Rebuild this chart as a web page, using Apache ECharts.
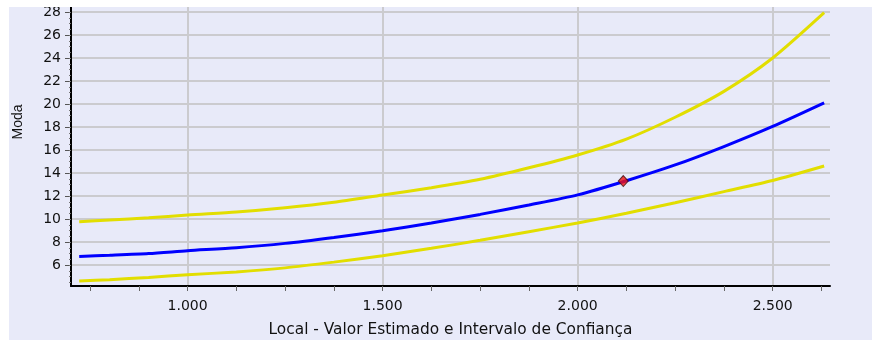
<!DOCTYPE html>
<html>
<head>
<meta charset="utf-8">
<script src="https://cdn.jsdelivr.net/npm/echarts@6/dist/echarts.min.js"></script>
<style>
  html, body { margin: 0; padding: 0; background: #ffffff; }
  #chart { width: 872px; height: 340px; }
</style>
</head>
<body>
<div id="chart"></div>
<script>
// Local (x) and Moda (y): estimate with its confidence band
const locais = [722, 800, 900, 1000, 1125, 1250, 1375, 1500, 1625, 1750, 1875, 2000, 2125, 2250, 2375, 2500, 2632];
const modaEstimada = [6.75, 6.85, 7.0, 7.24, 7.5, 7.88, 8.4, 8.98, 9.65, 10.4, 11.22, 12.1, 13.33, 14.7, 16.3, 18.05, 20.1];
const limiteSuperior = [9.77, 9.92, 10.1, 10.35, 10.6, 10.97, 11.45, 12.09, 12.72, 13.45, 14.45, 15.57, 16.95, 18.85, 21.1, 24.0, 27.94];
const limiteInferior = [4.61, 4.72, 4.92, 5.15, 5.4, 5.75, 6.25, 6.81, 7.45, 8.15, 8.9, 9.65, 10.5, 11.42, 12.38, 13.35, 14.61];

// highlighted point on the estimate
const pontoLocal = [2117];
const pontoModa = [13.3];

// axis ticks and labels
const xRotulos = [1000, 1500, 2000, 2500];
const xMarcas = [750, 875, 1000, 1125, 1250, 1375, 1500, 1625, 1750, 1875, 2000, 2125, 2250, 2375, 2500, 2625];
const yRotulos = [6, 8, 10, 12, 14, 16, 18, 20, 22, 24, 26, 28];
const yMarcas = [];
for (let v = 4.5; v <= 28; v += 0.5) yMarcas.push(v);

const X_MIN = 701, X_MAX = 2647;
const Y_MIN = 4.174, Y_MAX = 28.435;

const pares = (xs, ys) => xs.map((x, i) => [x, ys[i]]);
const milhar = v => Math.floor(v / 1000) + '.' + String(Math.round(v % 1000)).padStart(3, '0');

const chart = echarts.init(document.getElementById('chart'), null, { renderer: 'canvas' });

const linha = (name, valores, cor, z) => ({
  name, type: 'line', data: pares(locais, valores),
  xAxisIndex: 0, yAxisIndex: 0, showSymbol: false, smooth: 0.25,
  lineStyle: { color: cor, width: 3 }, z
});

chart.setOption({
  backgroundColor: '#e8eaf9',
  animation: false,
  textStyle: { fontFamily: 'DejaVu Sans', color: '#111' },
  grid: { left: 71, right: 42, top: 7, bottom: 54, containLabel: false, outerBoundsMode: 'none' },
  xAxis: [
    {
      type: 'value', position: 'bottom', min: X_MIN, max: X_MAX,
      axisLine: { show: true, onZero: false, lineStyle: { color: '#000', width: 2 } },
      axisTick: { show: true, customValues: xRotulos, length: 5, lineStyle: { color: '#666', width: 1 } },
      axisLabel: { customValues: xRotulos, formatter: milhar, margin: 13, fontSize: 14, color: '#111', fontFamily: 'DejaVu Sans' },
      splitLine: { show: true, lineStyle: { color: '#cbcbcf', width: 2 } },
      name: 'Local - Valor Estimado e Intervalo de Confiança',
      nameLocation: 'middle', nameGap: 36,
      nameTextStyle: { fontSize: 15.4, color: '#111', fontFamily: 'DejaVu Sans' }
    },
    {
      type: 'value', position: 'bottom', min: X_MIN, max: X_MAX,
      axisLine: { show: false, onZero: false },
      axisTick: { show: true, customValues: xMarcas, length: 5, lineStyle: { color: '#666', width: 1 } },
      axisLabel: { show: false },
      splitLine: { show: false }
    }
  ],
  yAxis: [
    {
      type: 'value', position: 'left', min: Y_MIN, max: Y_MAX,
      axisLine: { show: true, onZero: false, lineStyle: { color: '#000', width: 2 } },
      axisTick: { show: true, customValues: yRotulos, length: 6, lineStyle: { color: '#555', width: 1 } },
      axisLabel: { customValues: yRotulos, margin: 10, fontSize: 14, color: '#111', fontFamily: 'DejaVu Sans' },
      splitLine: { show: true, lineStyle: { color: '#cbcbcf', width: 2 } }
    },
    {
      type: 'value', position: 'left', min: Y_MIN, max: Y_MAX,
      axisLine: { show: false, onZero: false },
      axisTick: { show: true, customValues: yMarcas, length: 2, lineStyle: { color: '#777', width: 1 } },
      axisLabel: { show: false },
      splitLine: { show: false }
    }
  ],
  series: [
    linha('Limite Superior', limiteSuperior, '#e2de00', 3),
    linha('Limite Inferior', limiteInferior, '#e2de00', 3),
    linha('Moda', modaEstimada, '#0000ff', 4),
    {
      name: 'Local', type: 'scatter', data: pares(pontoLocal, pontoModa),
      xAxisIndex: 0, yAxisIndex: 0, symbol: 'diamond', symbolSize: [10, 11],
      itemStyle: { color: '#f01010', borderColor: '#3a1010', borderWidth: 1 }, z: 5
    }
  ],
  graphic: [
    { type: 'rect', x: 0, y: 0, shape: { width: 872, height: 7 }, style: { fill: '#ffffff' }, z: 100 },
    { type: 'rect', x: 0, y: 0, shape: { width: 9, height: 340 }, style: { fill: '#ffffff' }, z: 100 },
    {
      type: 'text', x: 18, y: 122, rotation: Math.PI / 2, z: 100,
      style: { text: 'Moda', fill: '#111', font: '14px "Liberation Sans"', align: 'center', verticalAlign: 'middle' }
    }
  ]
});
</script>
</body>
</html>
